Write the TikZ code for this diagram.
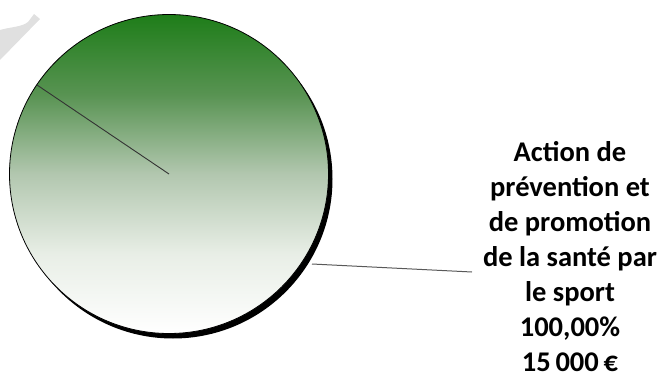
\documentclass[tikz,border=0pt]{standalone}
\usepackage{fontspec}
\setmainfont{Carlito}
\definecolor{wm}{RGB}{224,224,224}
\definecolor{gA}{RGB}{232,238,230}
\definecolor{gB}{RGB}{178,199,175}
\definecolor{gC}{RGB}{88,147,82}
\definecolor{gD}{RGB}{30,125,25}
\pgfdeclareverticalshading{pieshade}{100bp}{%
  color(0bp)=(white);
  color(25bp)=(white);
  color(37.5bp)=(gA);
  color(50bp)=(gB);
  color(62.5bp)=(gC);
  color(75bp)=(gD);
  color(100bp)=(gD)}
\begin{document}
\begin{tikzpicture}[x=1pt,y=-1pt,
  pie/.style={draw=black,line width=0.8pt,shading=pieshade},
  radial/.style={draw=black!80,line width=0.9pt},
  leader/.style={draw=black!65,line width=1pt},
  lbl/.style={font=\bfseries\fontsize{28.5}{35}\selectfont,align=center,inner sep=0pt}]
\useasboundingbox (0,0) rectangle (662,380);
% faint watermark fragment
\fill[wm] (0,30) .. controls (10,27) and (22,27) .. (28,22) -- (34,14) -- (40,19) -- (0,60) -- cycle;
% shadow
\fill[black] (173,179) circle[radius=159.5];
% pie
\path[pie] (169,174) circle[radius=159.5];
\coordinate (c) at (169,174);
\coordinate (e) at (37,85);
\draw[radial] (c) -- (e);
\node[lbl,anchor=north] (t) at (570,141) {Action de\\prévention et\\de promotion\\de la santé par\\le sport\\100,00\%\\15\,000\,€};
\coordinate (p) at (312,264);
\coordinate (q) at (472,272);
\draw[leader] (p) -- (q);
\end{tikzpicture}
\end{document}
